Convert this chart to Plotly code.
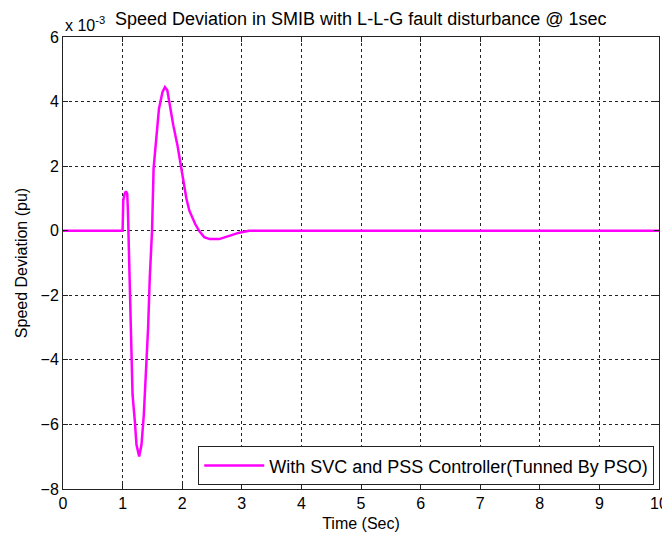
import plotly.graph_objects as go

time_s = [0, 1.0, 1.011, 1.033, 1.056, 1.078, 1.089, 1.111, 1.133, 1.167, 1.206, 1.233,
          1.278, 1.317, 1.356, 1.389, 1.428, 1.456, 1.494, 1.52, 1.57, 1.61, 1.67,
          1.71, 1.75, 1.79, 1.85, 1.92, 1.97, 2.02, 2.07, 2.12, 2.16, 2.22, 2.29,
          2.37, 2.46, 2.62, 2.79, 2.956, 3.122, 10]
speed_dev_e3 = [0, 0, 0.93, 1.14, 1.22, 1.14, 0.62, -1.24, -3.0, -5.08, -5.91, -6.63,
                -6.99, -6.63, -5.70, -4.46, -3.0, -1.45, 0, 1.93, 2.96, 3.78, 4.30,
                4.45, 4.35, 3.89, 3.27, 2.65, 2.13, 1.51, 1.0, 0.62, 0.45, 0.2, -0.02,
                -0.2, -0.26, -0.26, -0.16, -0.06, 0, 0]

series_name = "With SVC and PSS Controller(Tunned By PSO)"
title_text = "Speed Deviation in SMIB with L-L-G fault disturbance @ 1sec"
x_ticks = list(range(0, 11))
y_ticks = [-8, -6, -4, -2, 0, 2, 4, 6]

font = "Liberation Sans, Arial, sans-serif"

fig = go.Figure()
fig.add_trace(go.Scatter(x=time_s, y=speed_dev_e3, mode="lines", name=series_name,
                         line=dict(color="#ff00ff", width=2.5)))

axis_common = dict(showline=True, linecolor="#222222", linewidth=1, mirror="ticks",
                   ticks="inside", ticklen=5, tickcolor="#222222",
                   showgrid=True, gridcolor="#222222", gridwidth=1, griddash="3px,3px",
                   zeroline=False, automargin=False,
                   tickfont=dict(family=font, size=16, color="black"))

fig.update_xaxes(range=[0, 10], tickvals=x_ticks, **axis_common,
                 title=dict(text="Time (Sec)", font=dict(family=font, size=16, color="black"), standoff=6))
fig.update_yaxes(range=[-8, 6], tickvals=y_ticks, **axis_common,
                 title=dict(text="Speed Deviation (pu)", font=dict(family=font, size=16, color="black"), standoff=8))

fig.add_annotation(text="x 10<sup>-3</sup>", xref="paper", yref="paper", x=0, y=1,
                   xanchor="left", yanchor="bottom", yshift=1, showarrow=False,
                   font=dict(family=font, size=16, color="black"))
fig.add_annotation(text=title_text, xref="paper", yref="paper", x=0.5, y=1,
                   xanchor="center", yanchor="bottom", yshift=6, showarrow=False,
                   font=dict(family=font, size=18, color="black"))

# page body has an 8px margin; figure is sized/offset to compensate
fig.update_layout(
    width=662, height=530,
    margin=dict(l=55, r=11, t=29, b=49),
    paper_bgcolor="white", plot_bgcolor="white",
    showlegend=True,
    legend=dict(x=0.992, y=0.008, xanchor="right", yanchor="bottom",
                bgcolor="white", bordercolor="#222222", borderwidth=1, itemwidth=60,
                font=dict(family=font, size=18, color="black")),
)

fig.write_html("out.html")
